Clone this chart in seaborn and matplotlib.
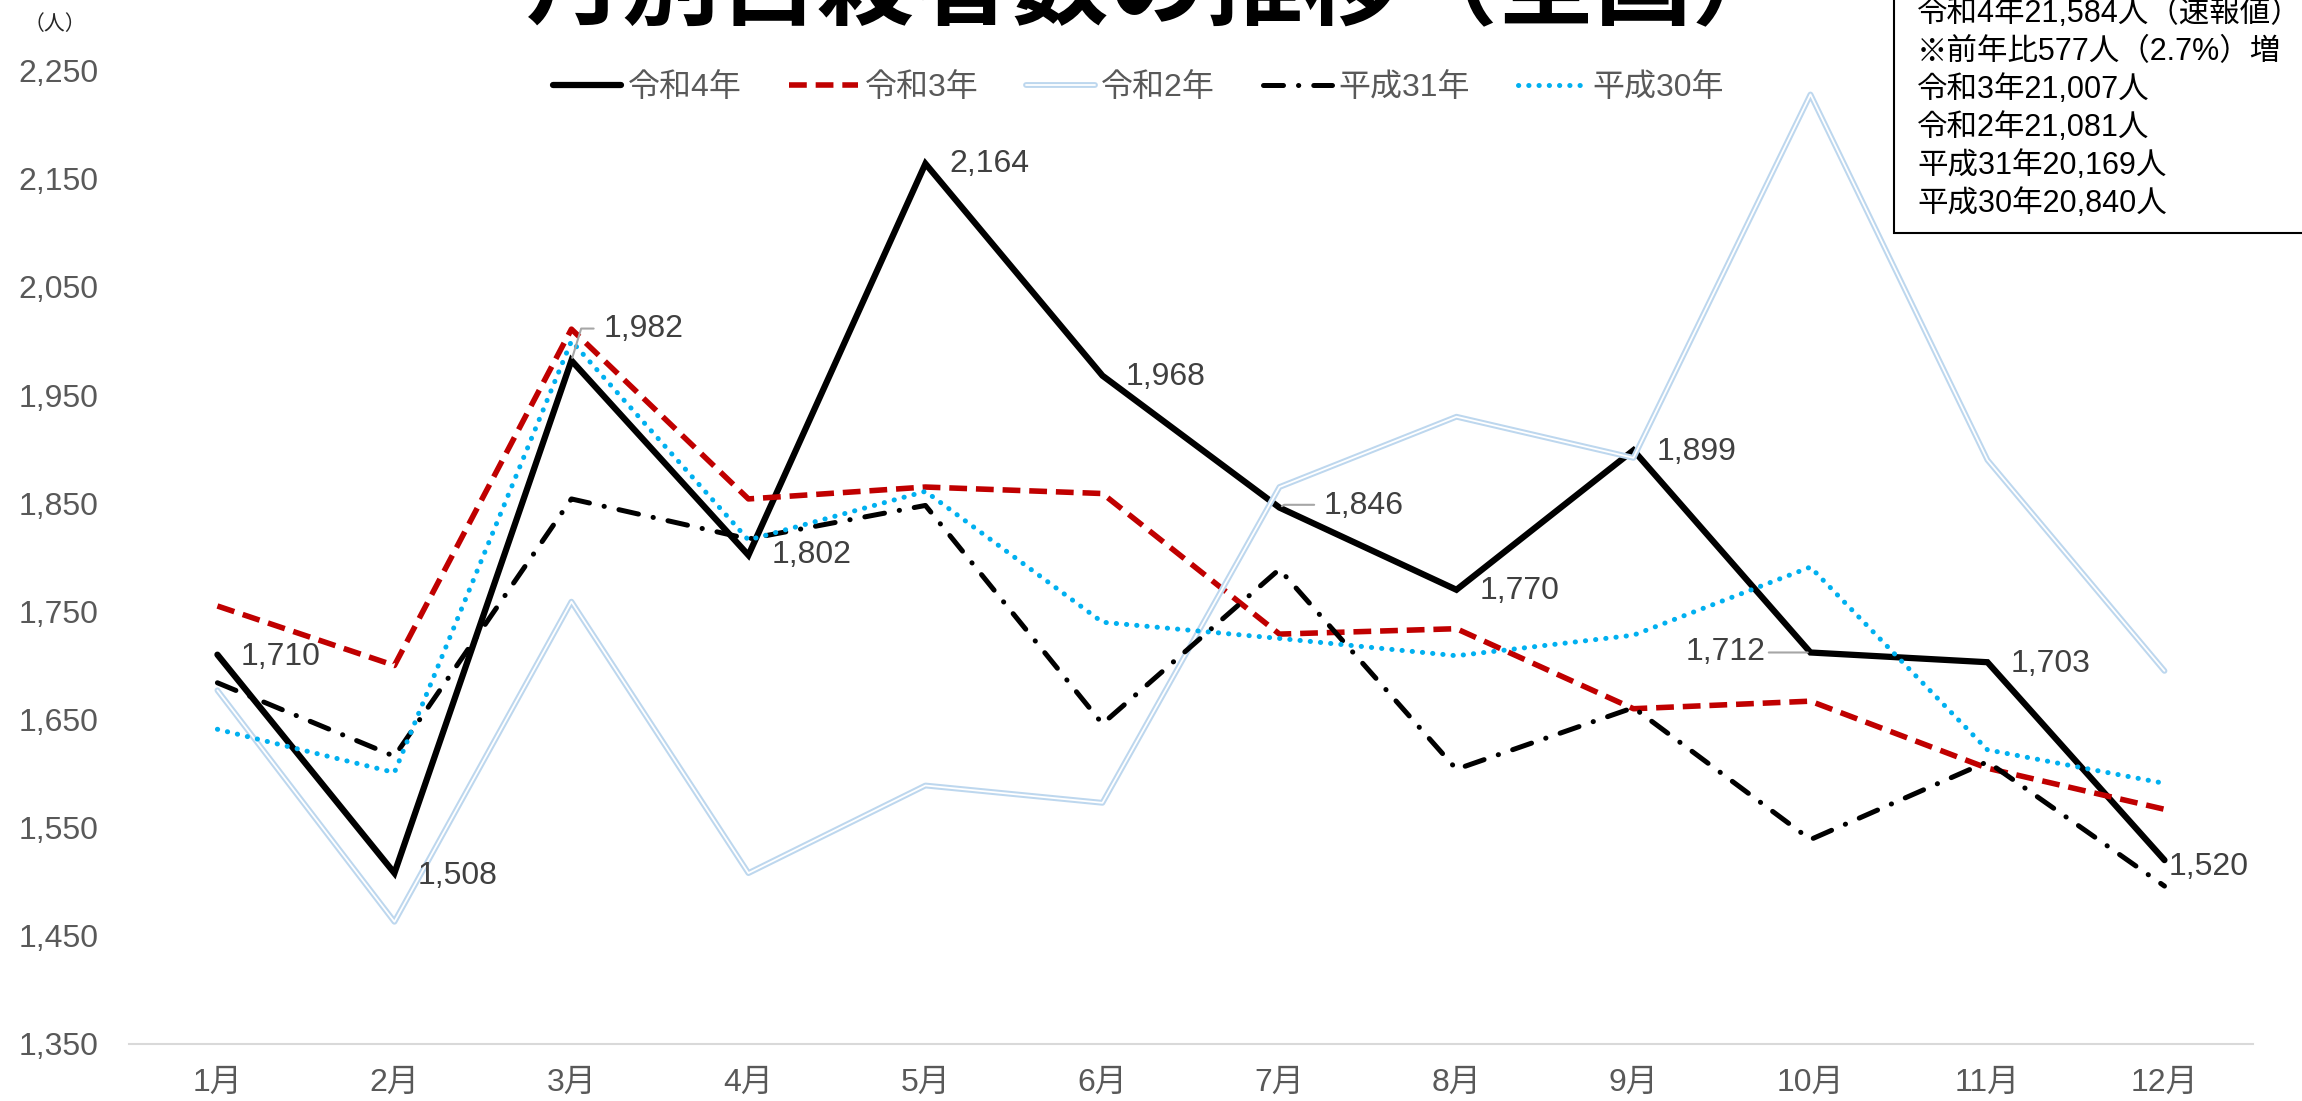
import matplotlib
matplotlib.use('Agg')
import matplotlib.pyplot as plt
import matplotlib.patheffects as pe
from matplotlib.patches import Rectangle
import seaborn as sns
import pandas as pd

# ---- data ----
months = ['1月', '2月', '3月', '4月', '5月', '6月', '7月', '8月', '9月', '10月', '11月', '12月']
series_names = ['令和4年', '令和3年', '令和2年', '平成31年', '平成30年']
r4 = [1710, 1508, 1982, 1802, 2164, 1968, 1846, 1770, 1899, 1712, 1703, 1520]
r3 = [1755, 1700, 2011, 1854, 1865, 1859, 1729, 1734, 1660, 1667, 1605, 1567]
r2 = [1677, 1463, 1759, 1508, 1589, 1573, 1865, 1930, 1892, 2228, 1890, 1695]
h31 = [1684, 1616, 1854, 1817, 1848, 1646, 1789, 1604, 1661, 1539, 1611, 1496]
h30 = [1641, 1601, 2000, 1816, 1861, 1740, 1725, 1709, 1728, 1791, 1622, 1591]
yticks = [1350, 1450, 1550, 1650, 1750, 1850, 1950, 2050, 2150, 2250]
title = '月別自殺者数の推移（全国）'
unit_label = '（人）'
box_lines = ['令和4年21,584人（速報値）', '※前年比577人（2.7%）増', '令和3年21,007人',
             '令和2年21,081人', '平成31年20,169人', '平成30年20,840人']

sns.set_theme(style='white')
plt.rcParams['font.family'] = ['Liberation Sans', 'Noto Sans CJK JP']

fig = plt.figure(figsize=(23.02, 11.01), dpi=100)
ax = fig.add_axes([0.056, 0.0518, 0.9227, 0.884])

values = [r4, r3, r2, h31, h30]
styles = [
    dict(color='black', lw=4.5, linestyle='-', solid_joinstyle='miter'),
    dict(color='#C00000', lw=4.0, linestyle=(0, (3.2, 1.6))),
    dict(color='white', lw=1.3, linestyle='-',
         path_effects=[pe.Stroke(linewidth=4.2, foreground='#BDD7EE'), pe.Normal()]),
    dict(color='black', lw=3.6, linestyle=(0, (4, 3, 0.05, 3)), dash_capstyle='round'),
    dict(color='#00B0F0', lw=3.6, linestyle=(0, (0.05, 2.0)), dash_capstyle='round'),
]
for name, vals, st in zip(series_names, values, styles):
    df = pd.DataFrame({'month': months, 'value': vals})
    sns.lineplot(data=df, x='month', y='value', ax=ax, sort=False, label=name, **st)

ax.set_xlim(-0.5, 11.5)
ax.set_ylim(1350, 2250)
ax.set_yticks(yticks)
ax.set_yticklabels([f'{v:,}' for v in yticks])
ax.set_xlabel('')
ax.set_ylabel('')
ax.tick_params(axis='both', length=0, labelsize=23, labelcolor='#595959')
ax.tick_params(axis='y', pad=22)
ax.tick_params(axis='x', pad=17)
for s in ['top', 'left', 'right']:
    ax.spines[s].set_visible(False)
ax.spines['bottom'].set_color('#D9D9D9')
ax.spines['bottom'].set_linewidth(1.5)
ax.grid(False)

# data labels for 令和4年
offsets = {0: (17, -2, 'left'), 1: (17, -2, 'left'), 2: (23, 23, 'left'), 3: (17, 0, 'left'),
           4: (17, 0, 'left'), 5: (17, -1, 'left'), 6: (32, 1, 'left'), 7: (17, -1, 'left'),
           8: (17, -1, 'left'), 9: (-32, 0, 'right'), 10: (17, -1, 'left'), 11: (3, -5, 'left')}
for i, v in enumerate(r4):
    dx, dy, ha = offsets[i]
    ax.annotate(f'{v:,}', xy=(months[i], v), xytext=(dx, dy), textcoords='offset points',
                ha=ha, va='center', fontsize=23, color='#404040')
# leader lines
lead = dict(arrowstyle='-', color='#A6A6A6', lw=1.5, shrinkA=0, shrinkB=2)
ax.annotate('', xy=(months[2], r4[2]), xytext=(16, 23), textcoords='offset points',
            arrowprops=dict(lead, connectionstyle='angle,angleA=0,angleB=73,rad=0'))
ax.annotate('', xy=(months[6], r4[6]), xytext=(25, 2), textcoords='offset points',
            arrowprops=dict(lead, connectionstyle='angle,angleA=0,angleB=30,rad=0'))
ax.annotate('', xy=(months[9], r4[9]), xytext=(-30, 0), textcoords='offset points',
            arrowprops=lead)

ax.legend(loc='center', bbox_to_anchor=(0.4945, 0.920), bbox_transform=fig.transFigure,
          ncol=5, frameon=False, fontsize=23, handlelength=2.15, handletextpad=0.2,
          columnspacing=1.5, labelcolor='#595959')

fig.text(0.503, 0.9665, title, ha='center', va='bottom', fontsize=70, fontweight='bold',
         color='black')
fig.text(0.024, 1 - 24 / 1101, unit_label, ha='center', va='center', fontsize=15,
         color='#262626')

# info box (cut off at top-right)
fig.patches.append(Rectangle((1894 / 2302, 1 - 233 / 1101), 0.3, 0.3, transform=fig.transFigure,
                             facecolor='white', edgecolor='black', lw=1.5, zorder=5))
ys = [14, 52, 90, 128, 166, 204]
for line, yy in zip(box_lines, ys):
    fig.text(1917 / 2302, 1 - yy / 1101, line, ha='left', va='center', fontsize=22,
             color='black', zorder=6)

fig.savefig('out.png', dpi=100)
